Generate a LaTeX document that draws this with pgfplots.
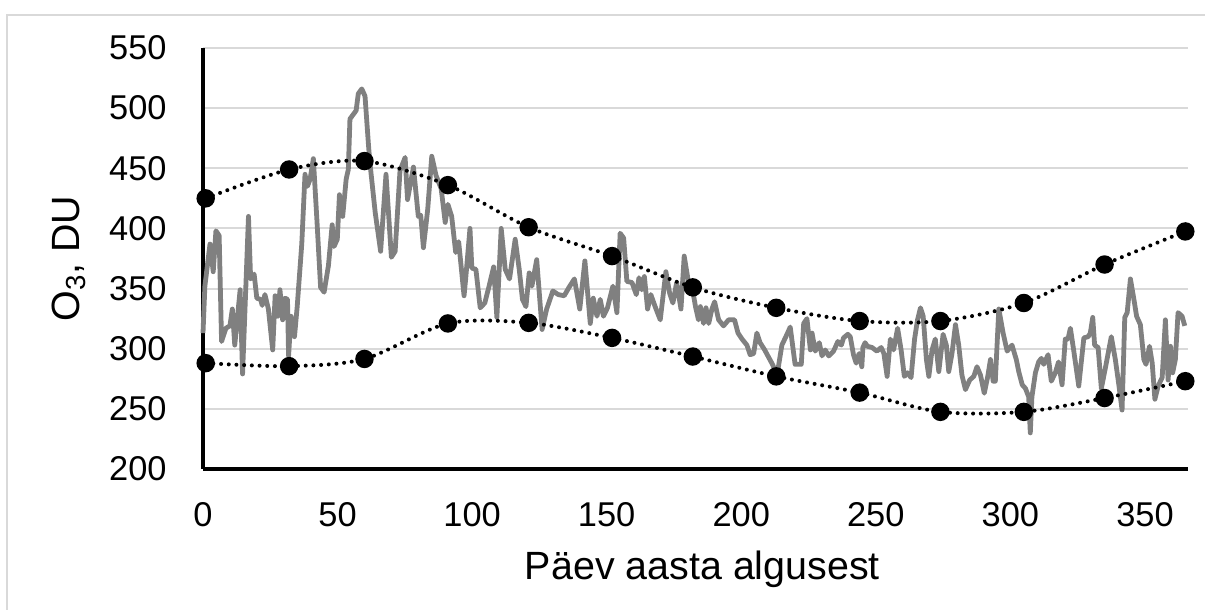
\documentclass[border=0pt]{standalone}
\usepackage{fontspec}
\setmainfont{Liberation Sans}
\usepackage{pgfplots}
\pgfplotsset{compat=1.18}
\usepackage{pgfplotstable}
\definecolor{gridgray}{HTML}{D9D9D9}
\definecolor{linegray}{HTML}{808080}

\pgfplotstableread{
x y
0 313
0.7 352
2.6 387
3.8 364
4.8 398
6 394
6.9 306
8.5 317
10 319
10.9 333
11.8 303
13.8 349
14.7 279
16.9 410
17.7 358
19 362
20 342
21.4 341
22 336
23 345
24.3 333
25.9 299
26.8 344
27.8 327
28.6 349
29.6 324
30.5 342
31.4 341
31.8 294
32.7 327
34 310
35 335
36.7 387
37.9 445
38.8 435
39.8 441
41 458
42.3 408
43.7 351
45 347
46.6 369
48 403
48.7 385
49.9 391
50.7 428
51.9 410
53.2 441
54 449
54.6 491
56.9 498
57.7 512
59 516
60.2 510
61.5 469
62 455
64 413
66 381
68 445
70 376
71.4 381
73.2 448
75.1 459
76 424
78.2 451
80 410
80.9 411
81.9 384
83.5 416
85 460
86.6 444
88.5 433
90 405
91 420
92.4 410
93.9 380
95 389
97 344
97.6 358
99.2 400
99.9 367
101.4 366
103 334
104.7 338
106.3 352
108 368
109.2 326
110.8 400
112.3 366
113.9 358
116 391
117.5 366
118.7 341
120 335
121.2 363
122.2 352
124 374
126 316
127.7 333
130 348
132 345
134.2 344
136 351
138 358
140 333
141.9 373
143.9 321
145 342
146.4 327
147.6 341
148.8 327
150.3 334
152.3 352
153.8 330
155 396
156.3 392
157.5 356
159.4 355
161 345
162 359
163 349
164 360
165.2 333
166.4 345
168 335
169.9 324
172 364
173.4 346
174.6 338
176 355
177.6 333
178.8 377
180.4 355
182.3 344
183 335
184.1 324
184.8 335
186 321
186.9 334
187.9 321
189.1 333
190.1 339
191.6 324
193.4 319
195.3 324
197.5 324
198.8 313
200.3 308
202.1 303
203.3 295
204.6 296
205.8 313
207 305
208.7 299
209.9 294
211.6 287
213.3 278
215.1 303
217 312
218.2 318
220 287
222.3 287
223.2 321
224.4 325
225.7 299
226.3 313
227.5 298
229 305
230 294
231.2 299
232.5 294
234.3 298
235.9 306
237.2 303
238 309
239.6 312
240.5 310
241.7 295
242.7 288
243.8 296
244.8 285
245.2 301
246 305
246.9 302
248.6 301
250.4 298
252 301
253 296
254.2 277
255.4 308
256.6 299
258.1 317
259.4 299
260.6 277
261.8 280
263.1 276
264.4 308
265.5 324
266.6 334
267.6 327
268.8 291
269.7 277
270.9 299
272.1 308
273.4 281
275 312
276.2 303
277.1 281
278.3 296
279.6 320
280.8 303
282 278
283.3 266
284.9 274
286.4 277
287.6 285
288.9 278
290.3 263
291.6 277
292.6 291
293.6 273
294.4 273
295.7 333
297.3 313
298.8 298
300.6 303
302.2 291
303.1 281
304.4 270
305.6 267
306.8 260
307.4 230
308 260
309.3 280
310.5 289
311.5 292
312.4 287
314 295
315.2 273
316.7 280
317.9 289
319.2 270
320.4 308
321.4 308
322.3 317
323.5 299
325.4 269
327.3 309
328.9 310
329.7 313
330.6 326
331.3 303
332.6 301
333.8 267
335.3 284
337.5 310
339 291
340.3 270
341.5 249
342.5 326
343.4 330
344.6 358
345.9 341
346.9 327
348.3 320
349.6 291
350.4 287
351.7 302
352.7 288
353.7 258
354.9 269
356.4 276
357.6 324
358.6 274
359.5 302
360.3 280
361.3 291
362.3 330
363.8 327
364.8 319
}\dailydata

\pgfplotstableread{
x y
1 425
32 449
60 456
91 436
121 401
152 377
182 351
213 334
244 323
274 323
305 338
335 370
365 397.5
}\upperdata

\pgfplotstableread{
x y
1 288
32 285.5
60 291.5
91 321
121 321.5
152 309
182 293.5
213 277
244 263.5
274 247.5
305 247.5
335 259
365 273
}\lowerdata

\begin{document}
\begin{tikzpicture}
\path[use as bounding box] (0,0) rectangle (602.5pt,305pt);
\draw[gridgray, line width=0.75pt] (3.5pt,0pt) -- (3.5pt,297.5pt) -- (602.5pt,297.5pt);
\begin{axis}[
  at={(101.5pt,70.5pt)}, anchor=south west,
  scale only axis, width=492.5pt, height=210.5pt,
  xmin=0, xmax=366, ymin=200, ymax=550,
  xtick={0,50,...,350}, ytick={200,250,...,550},
  axis lines=left,
  axis line style={-, line width=2pt, black},
  ymajorgrids, grid style={gridgray, line width=1pt},
  major tick length=0pt,
  tick label style={font=\fontsize{17.2}{20}\selectfont, inner sep=0pt},
  /pgf/number format/assume math mode=true,
  yticklabel style={anchor=east, xshift=-18pt},
  xticklabel style={anchor=north, yshift=-16.5pt},
  xlabel={Päev aasta algusest},
  ylabel={O\textsubscript{3}, DU},
  label style={font=\fontsize{19.7}{23}\selectfont, inner sep=0pt},
  xlabel style={at={(axis description cs:0.507,0)}, anchor=north, yshift=-41pt},
  ylabel style={at={(axis description cs:-0.136,0.5)}, anchor=center},
  clip=false,
]
\addplot[linegray, line width=2.4pt, line join=round, no marks] table {\dailydata};
\addplot[black, line width=2pt, line cap=round, dash pattern=on 0pt off 3.85pt,
  smooth, tension=0.5, mark=*, mark size=3.6pt, mark options={solid, fill=black}] table {\upperdata};
\addplot[black, line width=2pt, line cap=round, dash pattern=on 0pt off 3.85pt,
  smooth, tension=0.5, mark=*, mark size=3.6pt, mark options={solid, fill=black}] table {\lowerdata};
\end{axis}
\end{tikzpicture}
\end{document}
